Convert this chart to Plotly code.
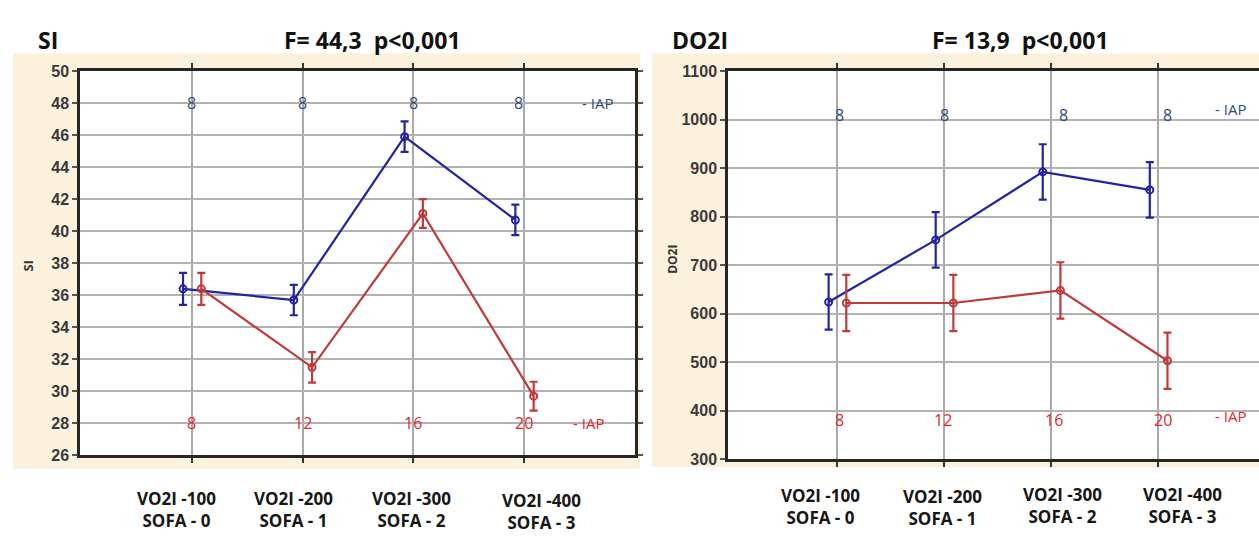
import plotly.graph_objects as go

# ---------------- data ----------------
categories = ["VO2I -100<br>SOFA - 0", "VO2I -200<br>SOFA - 1",
              "VO2I -300<br>SOFA - 2", "VO2I -400<br>SOFA - 3"]
cat_idx = [0, 1, 2, 3]

si_blue = [36.4, 35.7, 45.9, 40.7]
si_blue_err = [1.0, 0.95, 0.95, 0.95]
si_red = [36.4, 31.5, 41.1, 29.7]
si_red_err = [1.0, 0.95, 0.9, 0.9]

do2i_blue = [624, 752, 892, 855]
do2i_blue_err = [57, 57, 57, 57]
do2i_red = [622, 622, 648, 503]
do2i_red_err = [58, 58, 58, 58]

iap_blue = ["8", "8", "8", "8"]
iap_red = ["8", "12", "16", "20"]

title_si = "F= 44,3  p<0,001"
title_do2i = "F= 13,9  p<0,001"

# ---------------- style ----------------
W, H = 1259, 540
BLUE = "#2424a2"
RED = "#c03a3a"
NUM_BLUE = "#2f4a7a"
NUM_RED = "#e0282c"
FONT = "Open Sans"
OFF_B, OFF_R = -0.08, 0.085


def px(x):
    return x / W


def py(y):
    return (H - y) / H


fig = go.Figure()


def add_series(xa, ya, vals, errs, color, off):
    fig.add_trace(go.Scatter(
        x=[c + off for c in cat_idx], y=vals, xaxis=xa, yaxis=ya,
        mode="lines+markers",
        line=dict(color=color, width=2.2),
        marker=dict(symbol="circle-open", size=7, color=color, line=dict(width=2)),
        error_y=dict(type="data", array=errs, visible=True, color=color,
                     thickness=2.2, width=4),
        showlegend=False, hoverinfo="skip"))


add_series("x", "y", si_blue, si_blue_err, BLUE, OFF_B)
add_series("x", "y", si_red, si_red_err, RED, OFF_R)
add_series("x2", "y2", do2i_blue, do2i_blue_err, BLUE, OFF_B)
add_series("x2", "y2", do2i_red, do2i_red_err, RED, OFF_R)

xcommon = dict(tickvals=cat_idx, showticklabels=False, ticks="outside", ticklen=5,
               tickwidth=1.5, tickcolor="#333", showline=True, linecolor="#262626",
               linewidth=2.5, mirror="ticks", showgrid=True, gridcolor="#a9a9a9",
               gridwidth=1.5, zeroline=False, fixedrange=True)
ycommon = dict(ticks="outside", ticklen=5, tickwidth=1.5, tickcolor="#555",
               showline=True, linecolor="#262626", linewidth=2.5,
               showgrid=True, gridcolor="#b2b2b2", gridwidth=2, zeroline=False,
               tickfont=dict(family="Liberation Sans Narrow, Liberation Sans, Arial",
                             size=16, color="#3a3a3a", weight="bold"))

fig.update_layout(
    width=W, height=H,
    margin=dict(l=0, r=0, t=0, b=0),
    paper_bgcolor="white", plot_bgcolor="white",
    xaxis=dict(domain=[px(80), px(635)], range=[-1.01, 4.0], anchor="y", **xcommon),
    yaxis=dict(domain=[py(462), py(65)], range=[26, 50], dtick=2, anchor="x",
               mirror="ticks", **ycommon),
    xaxis2=dict(domain=[px(728), 1.0], range=[-1.02, 3.94], anchor="y2", **xcommon),
    yaxis2=dict(domain=[py(466), py(65)], range=[300, 1100], dtick=100, anchor="x2",
                mirror=False, **ycommon),
)

# cream backgrounds, white plot areas on top of them
fig.add_shape(type="rect", xref="paper", yref="paper", x0=px(13), x1=px(640),
              y0=py(476), y1=py(47), fillcolor="#fcf1dc", line=dict(width=0), layer="below")
fig.add_shape(type="rect", xref="paper", yref="paper", x0=px(652), x1=1.0,
              y0=py(474), y1=py(47), fillcolor="#fcf1dc", line=dict(width=0), layer="below")
fig.add_shape(type="rect", xref="x domain", yref="y domain", x0=0, x1=1, y0=0, y1=1,
              fillcolor="white", line=dict(width=0), layer="below")
fig.add_shape(type="rect", xref="x2 domain", yref="y2 domain", x0=0, x1=1, y0=0, y1=1,
              fillcolor="white", line=dict(width=0), layer="below")

ann = []
# titles
for txt, xc in [("SI", 48), (title_si, 372), ("DO2I", 700), (title_do2i, 1020)]:
    ann.append(dict(text=txt, x=px(xc), y=py(33), xref="paper", yref="paper",
                    xanchor="center", yanchor="middle", showarrow=False,
                    font=dict(family=FONT, size=23, color="#111", weight="bold")))
# y axis titles
ann.append(dict(text="SI", x=px(28), y=py(267), xref="paper", yref="paper",
                textangle=-90, showarrow=False, xanchor="center", yanchor="middle",
                font=dict(family=FONT, size=13, color="#333", weight="bold")))
ann.append(dict(text="DO2I", x=px(673), y=py(260), xref="paper", yref="paper",
                textangle=-90, showarrow=False, xanchor="center", yanchor="middle",
                font=dict(family=FONT, size=12, color="#333", weight="bold")))

# category labels (below axes)
left_shift = [-15, -9, -2, 17]
left_y = [518, 518, 518, 520]
right_shift = [-17, -2, 11, 24]
right_y = [515, 516, 514, 514]
for i, c in enumerate(categories):
    ann.append(dict(text=c, x=cat_idx[i], xref="x", y=py(left_y[i]), yref="paper",
                    xshift=left_shift[i], showarrow=False, xanchor="center",
                    yanchor="middle",
                    font=dict(family=FONT, size=17, color="#161616", weight="bold")))
    ann.append(dict(text=c, x=cat_idx[i], xref="x2", y=py(right_y[i]), yref="paper",
                    xshift=right_shift[i], showarrow=False, xanchor="center",
                    yanchor="middle",
                    font=dict(family=FONT, size=17, color="#161616", weight="bold")))

# IAP numbers
lb_shift = [0, 0, 0, -6]
rb_shift = [2, 0, 12, 9]
rr_shift = [2, -1, 3, 5]
numfont_b = dict(family=FONT, size=16, color=NUM_BLUE, weight=500)
numfont_r = dict(family=FONT, size=16, color=NUM_RED, weight=500)
for i in range(4):
    ann.append(dict(text=iap_blue[i], x=cat_idx[i], xref="x", y=48, yref="y",
                    xshift=lb_shift[i], showarrow=False, font=numfont_b))
    ann.append(dict(text=iap_red[i], x=cat_idx[i], xref="x", y=28, yref="y",
                    showarrow=False, font=numfont_r))
    ann.append(dict(text=iap_blue[i], x=cat_idx[i], xref="x2", y=1010, yref="y2",
                    xshift=rb_shift[i], showarrow=False, font=numfont_b))
    ann.append(dict(text=iap_red[i], x=cat_idx[i], xref="x2", y=380, yref="y2",
                    xshift=rr_shift[i], showarrow=False, font=numfont_r))

ann.append(dict(text="- IAP", x=3.66, xref="x", y=48, yref="y", showarrow=False,
                font=dict(family=FONT, size=15, color=NUM_BLUE)))
ann.append(dict(text="- IAP", x=3.58, xref="x", y=28, yref="y", showarrow=False,
                font=dict(family=FONT, size=15, color=NUM_RED)))
ann.append(dict(text="- IAP", x=3.67, xref="x2", y=1022, yref="y2", showarrow=False,
                font=dict(family=FONT, size=15, color=NUM_BLUE)))
ann.append(dict(text="- IAP", x=3.67, xref="x2", y=390, yref="y2", showarrow=False,
                font=dict(family=FONT, size=15, color=NUM_RED)))

fig.update_layout(annotations=ann)
fig.write_html("out.html")
